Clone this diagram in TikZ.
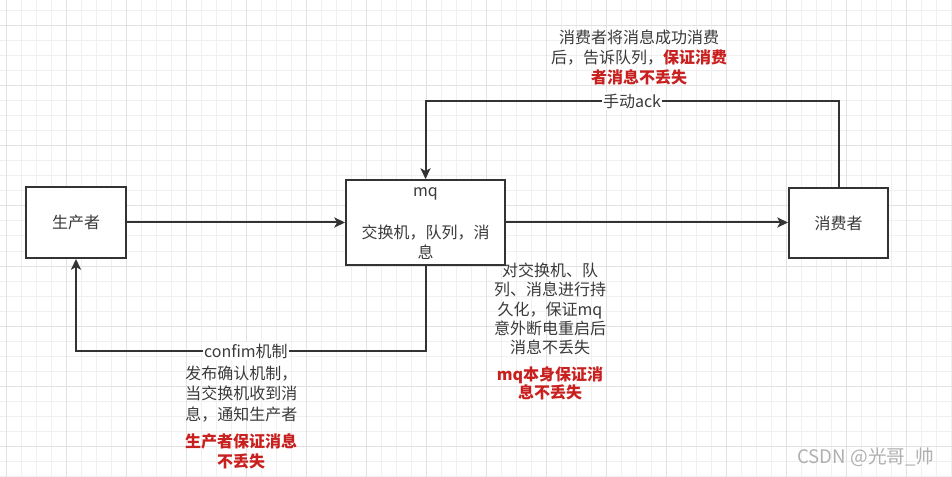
\documentclass[tikz,border=0pt]{standalone}
\usepackage{fontspec}
\setmainfont{Noto Sans CJK SC}
\usetikzlibrary{arrows.meta}
\definecolor{ink}{HTML}{333333}
\definecolor{txtc}{HTML}{3A3A3A}
\definecolor{hired}{HTML}{C8201F}
\definecolor{gridminor}{HTML}{F0F0F0}
\definecolor{gridmajor}{HTML}{E2E2E2}
\definecolor{wmc}{HTML}{B0B0B0}
\begin{document}
\begin{tikzpicture}[x=0.75pt,y=-0.75pt,
  box/.style={draw=ink, line width=1.5pt, fill=white, inner sep=0pt,
    text=txtc, font=\fontsize{12pt}{15pt}\selectfont},
  conn/.style={draw=ink, line width=1.5pt,
    -{Stealth[length=8pt,width=7.5pt,inset=2pt]}},
  body/.style={text=txtc, font=\fontsize{12pt}{15pt}\selectfont, align=center, inner sep=0pt},
  emph/.style={text=hired, font=\fontsize{12pt}{15pt}\selectfont\bfseries, align=center, inner sep=0pt},
  lbl/.style={fill=white, text=txtc, font=\fontsize{12pt}{15pt}\selectfont, inner sep=1pt},
]
\useasboundingbox (0,0) rectangle (952,477);
\fill[white] (0,0) rectangle (952,477);
% grid
\foreach \i in {0,...,63} \draw[gridminor, line width=0.75pt] ({6+15*\i},0) -- ({6+15*\i},477);
\foreach \j in {0,...,31} \draw[gridminor, line width=0.75pt] (0,{11+15*\j}) -- (952,{11+15*\j});
\foreach \i in {0,...,15} \draw[gridmajor, line width=0.75pt] ({6+60*\i},0) -- ({6+60*\i},477);
\foreach \j in {0,...,7} \draw[gridmajor, line width=0.75pt] (0,{26+60*\j}) -- (952,{26+60*\j});

% boxes
\node[box, minimum width=75pt, minimum height=53.25pt] (prod) at (76,222.5) {生产者};
\node[box, minimum width=119.25pt, minimum height=63.75pt] (mq) at (425.5,222.5) {};
\node[box, minimum width=74.25pt, minimum height=52.5pt] (cons) at (838.5,223) {消费者};
\node[body] (mqtitle) at (425.5,194) {mq};
\node[body] (mqbody) at (425.5,242.5) {交换机，队列，消\\息};

% connectors
\draw[conn] (prod.east) -- (mq.west);
\draw[conn] (mq.east) -- (mq.east -| cons.west);
\coordinate (topline) at (0,101);
\coordinate (botline) at (0,351);
\draw[conn] (cons.north) |- (mq.north |- topline)
  node[lbl, pos=0.75] (ack) {手动ack} -- (mq.north);
\draw[conn] (mq.south) |- (prod.south |- botline)
  node[lbl, pos=0.757] (confirm) {confim机制} -- (prod.south);

% notes
\node[body] (topnote) at (639,57) {消费者将消息成功消费\\后，告诉队列，{\color{hired}\bfseries 保证消费}\\{\color{hired}\bfseries 者消息不丢失}};
\node[body, font=\fontsize{12pt}{14.5pt}\selectfont] (midnote) at (550,309) {对交换机、队\\列、消息进行持\\久化，保证mq\\意外断电重启后\\消息不丢失};
\node[emph, font=\fontsize{12pt}{13pt}\selectfont\bfseries] (midred) at (550,383.5) {mq本身保证消\\息不丢失};
\node[body, align=left, anchor=west, font=\fontsize{12pt}{15.5pt}\selectfont] (botnote) at (185,394) {发布确认机制，\\当交换机收到消\\息，通知生产者};
\node[emph] (botred) at (241,451) {生产者保证消息\\不丢失};

% watermark
\node[text=wmc, font=\fontsize{14pt}{16pt}\selectfont, inner sep=0pt] (wmark) at (866,457) {CSDN @光哥\_帅};
\end{tikzpicture}
\end{document}
